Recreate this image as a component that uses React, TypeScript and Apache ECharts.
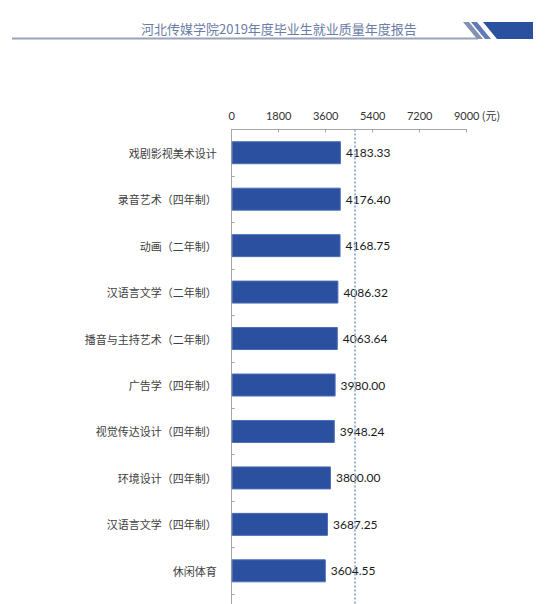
import React, { useEffect, useRef } from "react";
import * as echarts from "echarts";

const title = "河北传媒学院2019年度毕业生就业质量年度报告";
const categories = [
  "戏剧影视美术设计",
  "录音艺术（四年制）",
  "动画（二年制）",
  "汉语言文学（二年制）",
  "播音与主持艺术（二年制）",
  "广告学（四年制）",
  "视觉传达设计（四年制）",
  "环境设计（四年制）",
  "汉语言文学（四年制）",
  "休闲体育",
  "",
];
const salaries: (number | null)[] = [
  4183.33, 4176.4, 4168.75, 4086.32, 4063.64, 3980.0, 3948.24, 3800.0, 3687.25, 3604.55, null,
];
const averageSalary = 4722;
const axisMax = 9000;
const axisStep = 1800;
const unitLabel = "(元)";

export default function App() {
  const ref = useRef<HTMLDivElement>(null);
  useEffect(() => {
    if (!ref.current) return;
    const chart = echarts.init(ref.current, undefined, { renderer: "svg" });
    const cjk = '"Noto Sans CJK SC", "Noto Sans", sans-serif';
    const num = 'Lato, "Noto Sans", sans-serif';
    const gridTop = 129.5;
    chart.setOption({
      animation: false,
      backgroundColor: "#ffffff",
      grid: {
        left: 231.7,
        width: 235,
        top: gridTop,
        height: 511,
        containLabel: false,
        outerBoundsMode: "none",
      },
      xAxis: {
        type: "value",
        position: "top",
        min: 0,
        max: axisMax,
        interval: axisStep,
        splitLine: { show: false },
        axisLine: { show: true, lineStyle: { color: "#A6A6A6", width: 1 } },
        axisTick: { show: true, inside: true, length: 3, lineStyle: { color: "#A6A6A6" } },
        axisLabel: {
          color: "#333333",
          fontSize: 11,
          fontFamily: num,
          margin: 9,
          formatter: (v: number) => String(v),
        },
      },
      yAxis: {
        type: "category",
        inverse: true,
        data: categories,
        axisLine: { show: true, lineStyle: { color: "#A6A6A6", width: 1 } },
        axisTick: { show: true, inside: true, length: 3, lineStyle: { color: "#A6A6A6" } },
        axisLabel: { color: "#404040", fontSize: 11, fontFamily: cjk, margin: 15 },
        splitLine: { show: false },
      },
      series: [
        {
          type: "bar",
          data: salaries,
          barWidth: 23,
          itemStyle: { color: "#2B50A0", borderColor: "#4C6EB6", borderWidth: 1 },
          label: {
            show: true,
            position: "right",
            distance: 5,
            color: "#1a1a1a",
            fontSize: 12,
            fontFamily: num,
            formatter: (p: any) => (p.value == null ? "" : Number(p.value).toFixed(2)),
          },
          markLine: {
            silent: true,
            symbol: "none",
            label: { show: false },
            lineStyle: { color: "#9DB2D6", width: 2, type: [2, 2] },
            data: [{ xAxis: averageSalary }],
          },
        },
      ],
      graphic: [
        {
          type: "text",
          left: 141,
          top: 22,
          style: {
            text: title,
            fill: "#6B7CA5",
            fontSize: 13,
            fontFamily: cjk,
          },
        },
        {
          type: "line",
          shape: { x1: 12, y1: 38.5, x2: 478, y2: 38.5 },
          style: { stroke: "#98A2B9", lineWidth: 2 },
        },
        {
          type: "polygon",
          shape: { points: [[463, 22], [469, 22], [483, 39], [477, 39]] },
          style: { fill: "#8391B2" },
        },
        {
          type: "polygon",
          shape: { points: [[471, 22], [477, 22], [491, 39], [485, 39]] },
          style: { fill: "#5F7AB6" },
        },
        {
          type: "polygon",
          shape: { points: [[483, 22], [533, 22], [533, 39], [497, 39]] },
          style: { fill: "#2B50A0" },
        },
      ],
    });
    const endX = chart.convertToPixel({ xAxisIndex: 0 }, axisMax) as number;
    chart.setOption({
      graphic: [
        {
          id: "unit",
          type: "text",
          x: endX + 15,
          y: gridTop - 15,
          style: {
            text: unitLabel,
            fill: "#333333",
            fontSize: 11,
            fontFamily: cjk,
            verticalAlign: "middle",
            align: "left",
          },
        },
      ],
    });
    return () => chart.dispose();
  }, []);
  return (
    <div
      ref={ref}
      style={{ position: "fixed", left: 0, top: 0, width: 560, height: 604, background: "#fff" }}
    />
  );
}
